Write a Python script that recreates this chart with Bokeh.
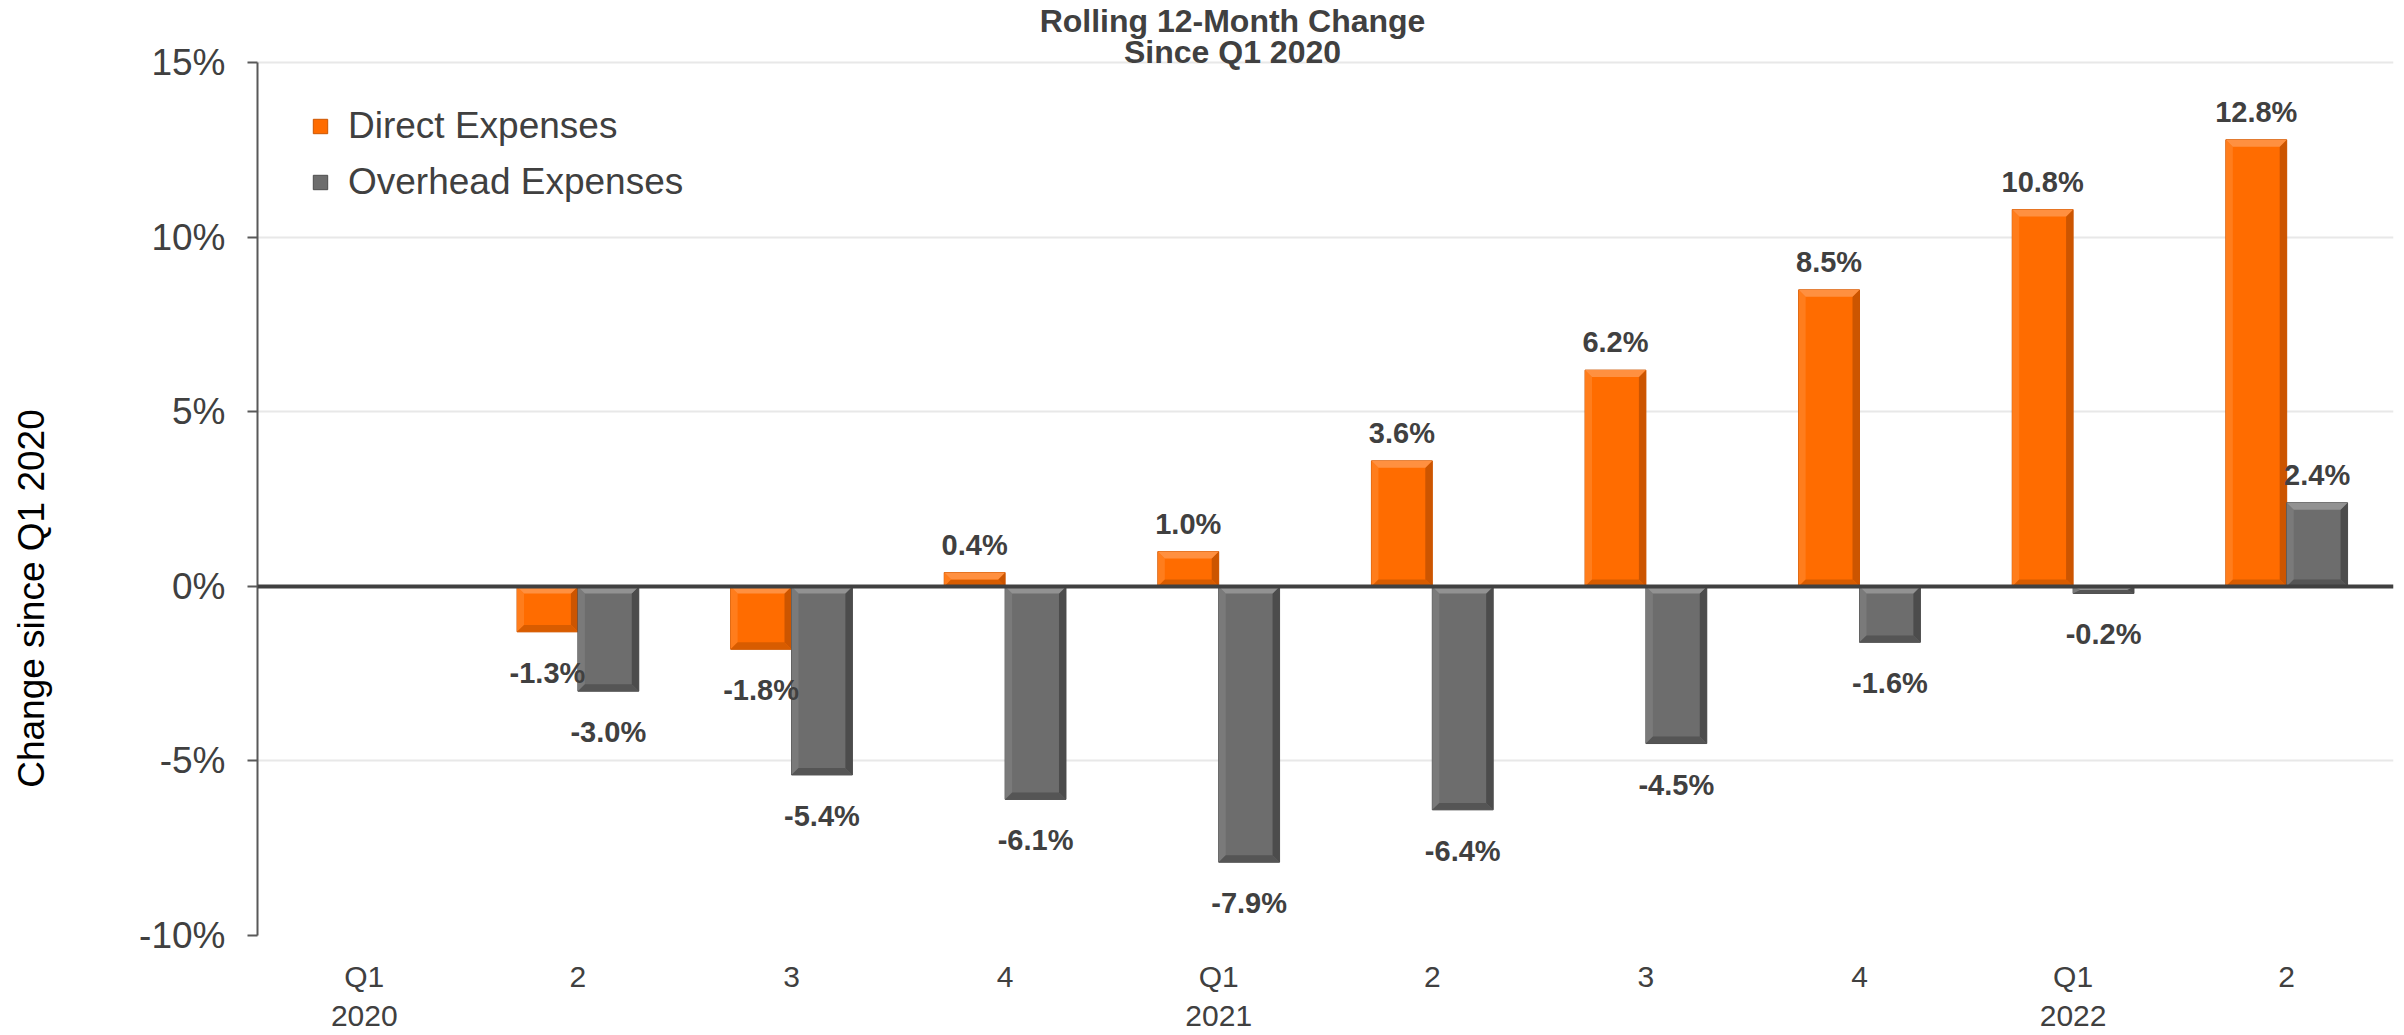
import math

from bokeh.plotting import figure
from bokeh.layouts import row
from bokeh.models import Range1d, Span, Legend, LegendItem, FixedTicker, Label
from bokeh.embed import file_html
from bokeh.resources import INLINE
from bokeh.core.properties import value

# ---- data -------------------------------------------------------------
quarters = ["Q1\n2020", "2", "3", "4", "Q1\n2021", "2", "3", "4", "Q1\n2022", "2"]
direct_expenses = [None, -1.3, -1.8, 0.4, 1.0, 3.6, 6.2, 8.5, 10.8, 12.8]
overhead_expenses = [None, -3.0, -5.4, -6.1, -7.9, -6.4, -4.5, -1.6, -0.2, 2.4]
y_ticks = [-10, -5, 0, 5, 10, 15]
title_lines = ["Rolling 12-Month Change", "Since Q1 2020"]
y_title = "Change since Q1 2020"

# ---- layout -----------------------------------------------------------
W, H = 2404, 1035
STRIP_W = 60                   # narrow strip on the far left holding the y title
BORDER_L, BORDER_R, BORDER_B = 257, 11, 92
HEAD = 63                      # space above the 15% line, kept inside the frame
AXIS_H = H - HEAD - BORDER_B   # pixel height of the -10%..15% span
X0, X1 = -0.5, len(quarters) - 0.5
Y0, Y1 = -10, 15
PX_X = (X1 - X0) / (W - BORDER_L - BORDER_R)   # data units per pixel
PX_Y = (Y1 - Y0) / AXIS_H
Y_TOP = Y1 + HEAD * PX_Y

FONT = "Liberation Sans"
TEXT = "#404040"
BAR_W = 0.285

ORANGE = dict(main="#FF6C00", top="#FF9040", left="#FF7D1C", right="#CC5500", bottom="#D85C00")
GRAY = dict(main="#6D6D6D", top="#929292", left="#7A7A7A", right="#4C4C4C", bottom="#555555")

# ---- y title strip ------------------------------------------------------
strip = figure(width=STRIP_W, height=H, x_range=Range1d(0, STRIP_W), y_range=Range1d(0, H),
               output_backend="svg", toolbar_location=None, min_border=0)
strip.axis.visible = False
strip.grid.visible = False
strip.outline_line_color = None
strip.title.visible = False
strip.add_layout(Label(x=31, y=373, text=y_title, angle=math.pi / 2,
                       text_align="center", text_baseline="middle", text_font=FONT,
                       text_font_size="37px", text_color="black"))

# ---- main chart ---------------------------------------------------------
p = figure(width=W - STRIP_W, height=H, x_range=Range1d(X0, X1), y_range=Range1d(Y0, Y_TOP),
           output_backend="svg", toolbar_location=None,
           min_border_left=BORDER_L - STRIP_W, min_border_right=BORDER_R,
           min_border_top=0, min_border_bottom=BORDER_B)
p.outline_line_color = None
p.background_fill_color = "white"
p.title.visible = False

# grid
p.xgrid.visible = False
p.ygrid.ticker = FixedTicker(ticks=y_ticks)
p.ygrid.grid_line_color = "#E8E8E8"
p.ygrid.grid_line_width = 2

# y axis
p.yaxis.ticker = FixedTicker(ticks=y_ticks)
p.yaxis.bounds = (Y0, Y1)
p.yaxis.major_label_overrides = {t: f"{t}%" for t in y_ticks}
p.yaxis.major_label_text_font = FONT
p.yaxis.major_label_text_font_size = "37px"
p.yaxis.major_label_text_color = TEXT
p.yaxis.axis_line_color = "#595959"
p.yaxis.axis_line_width = 2
p.yaxis.major_tick_line_color = "#595959"
p.yaxis.major_tick_line_width = 2
p.yaxis.major_tick_out = 10
p.yaxis.major_tick_in = 0
p.yaxis.minor_tick_line_color = None
p.yaxis.major_label_standoff = 22

# x axis (categories as numeric positions)
p.xaxis.ticker = FixedTicker(ticks=list(range(len(quarters))))
p.xaxis.major_label_overrides = {i: q for i, q in enumerate(quarters)}
p.xaxis.major_label_text_font = FONT
p.xaxis.major_label_text_font_size = "30px"
p.xaxis.major_label_text_color = TEXT
p.xaxis.axis_line_color = None
p.xaxis.major_tick_line_color = None
p.xaxis.minor_tick_line_color = None
p.xaxis.major_label_standoff = 18


def bevel_polys(xc, v):
    """Return the four bevel edges of a bar centred at xc with value v."""
    x0, x1 = xc - BAR_W / 2, xc + BAR_W / 2
    yt, yb = max(v, 0), min(v, 0)
    bx = min(7 * PX_X, (x1 - x0) / 2)
    by = min(7 * PX_Y, (yt - yb) / 2)
    top = ([x0, x1, x1 - bx, x0 + bx], [yt, yt, yt - by, yt - by])
    right = ([x1, x1, x1 - bx, x1 - bx], [yt, yb, yb + by, yt - by])
    bottom = ([x0, x1, x1 - bx, x0 + bx], [yb, yb, yb + by, yb + by])
    left = ([x0, x0, x0 + bx, x0 + bx], [yt, yb, yb + by, yt - by])
    return dict(top=top, right=right, bottom=bottom, left=left)


def draw_series(values, offset, colors):
    xs = [i + offset for i, v in enumerate(values) if v is not None]
    vs = [v for v in values if v is not None]
    r = p.vbar(x=xs, top=vs, bottom=0, width=BAR_W, fill_color=colors["main"],
               line_color=colors["right"], line_width=1)
    for side in ("left", "right", "bottom", "top"):
        px, py = [], []
        for xc, v in zip(xs, vs):
            sx, sy = bevel_polys(xc, v)[side]
            px.append(sx)
            py.append(sy)
        p.patches(px, py, fill_color=colors[side], line_color=None)
    return r, xs, vs


r_dir, xd, vd = draw_series(direct_expenses, -BAR_W / 2, ORANGE)
r_ovh, xo, vo = draw_series(overhead_expenses, BAR_W / 2, GRAY)

# zero line
p.add_layout(Span(location=0, dimension="width", line_color="#404040", line_width=4))

# value labels
for xs, vs in ((xd, vd), (xo, vo)):
    pos = [(x, v) for x, v in zip(xs, vs) if v >= 0]
    neg = [(x, v) for x, v in zip(xs, vs) if v < 0]
    if pos:
        p.text(x=[a for a, _ in pos], y=[b for _, b in pos], text=[f"{b:.1f}%" for _, b in pos],
               text_align="center", text_baseline="alphabetic", y_offset=-28,
               text_font=value(FONT), text_font_style="bold", text_font_size="29px",
               text_color=TEXT)
    if neg:
        p.text(x=[a for a, _ in neg], y=[b for _, b in neg], text=[f"{b:.1f}%" for _, b in neg],
               text_align="center", text_baseline="alphabetic", y_offset=41,
               text_font=value(FONT), text_font_style="bold", text_font_size="29px",
               text_color=TEXT)

# chart title, two centred lines above the 15% line
title_x = X0 + (1232 - BORDER_L) * PX_X
for line, ypix in zip(title_lines, (21, 52)):
    p.add_layout(Label(x=title_x, y=Y_TOP - ypix * PX_Y, text=line, text_align="center",
                       text_baseline="middle", text_font=FONT, text_font_style="bold",
                       text_font_size="32px", text_color=TEXT))

# legend
legend = Legend(items=[LegendItem(label="Direct Expenses", renderers=[r_dir]),
                       LegendItem(label="Overhead Expenses", renderers=[r_ovh])],
                location=(54, 731), margin=0, padding=0, spacing=12,
                glyph_width=18, glyph_height=18, label_height=44, label_standoff=19,
                label_text_font=FONT, label_text_font_size="37px", label_text_color=TEXT,
                background_fill_alpha=0, border_line_color=None)
p.add_layout(legend)

layout = row(strip, p, spacing=0)
open("out.html", "w").write(file_html(layout, INLINE))
